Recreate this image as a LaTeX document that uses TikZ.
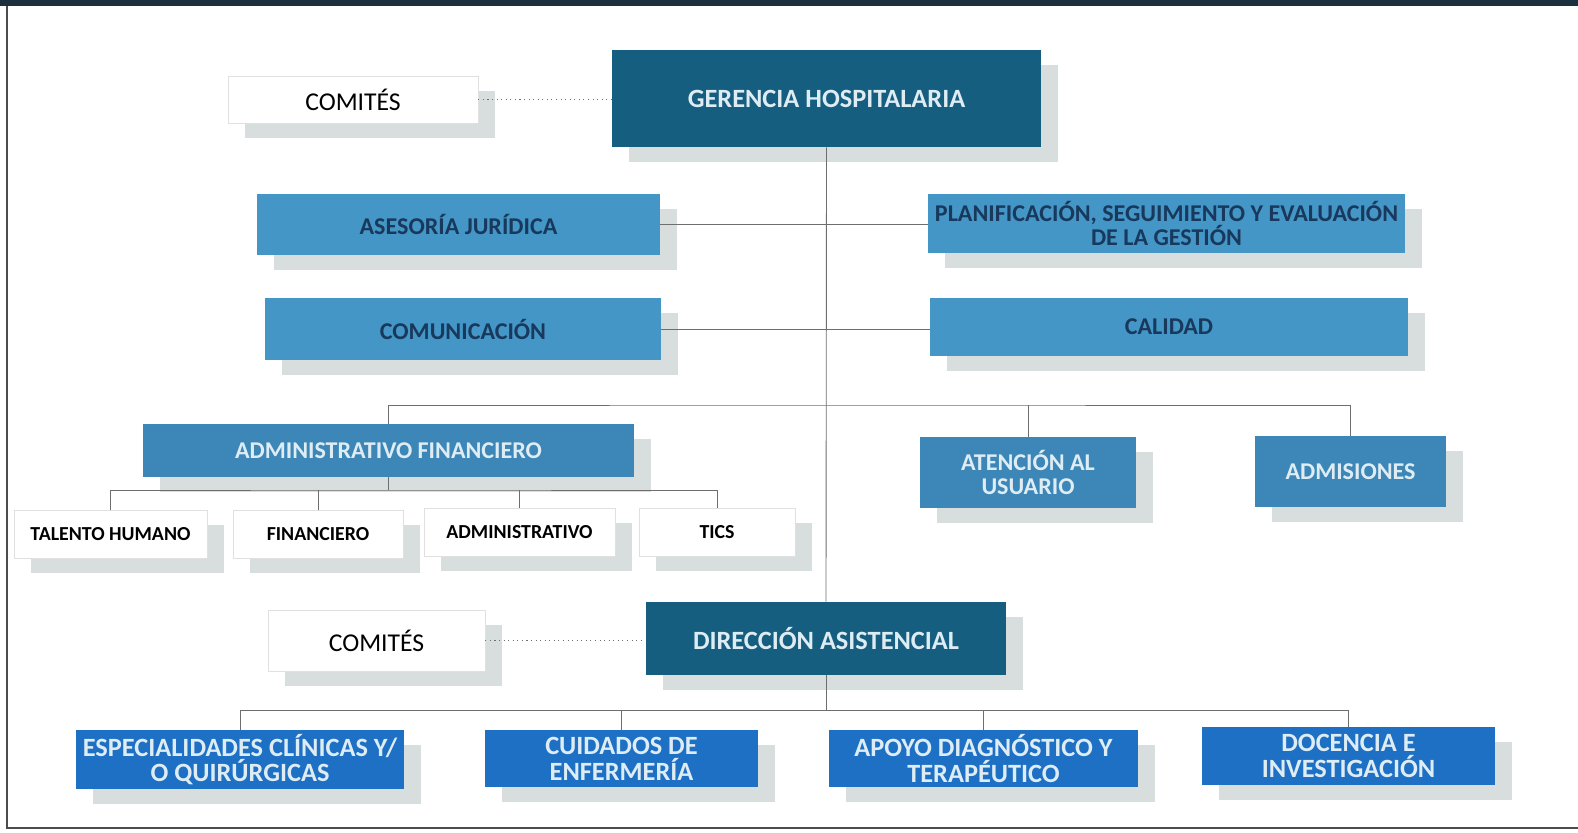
\documentclass[tikz,border=0pt]{standalone}
\usepackage{fontspec}
\setmainfont{Carlito}
\usepackage{tikz}
\usetikzlibrary{shadows}
\definecolor{banda}{RGB}{28,47,62}
\definecolor{oscuro}{RGB}{22,94,128}
\definecolor{medio}{RGB}{68,150,198}
\definecolor{medio2}{RGB}{60,135,184}
\definecolor{vivo}{RGB}{30,112,196}
\definecolor{textoazul}{RGB}{24,56,92}
\definecolor{textoclaro}{RGB}{222,236,244}
\definecolor{sombra}{RGB}{216,221,221}
\definecolor{linea}{RGB}{110,110,110}

\begin{document}
\begin{tikzpicture}[x=0.02cm, y=-0.02cm,
  caja/.style={rectangle, inner sep=1pt, align=center, font=\bfseries,
    drop shadow={shadow xshift=0.34cm, shadow yshift=-0.3cm, fill=sombra, opacity=1}},
  jefe/.style={caja, fill=oscuro, text=textoclaro, font=\bfseries\fontsize{15}{17}\selectfont},
  staff/.style={caja, fill=medio, text=textoazul, font=\bfseries\fontsize{13.7}{14}\selectfont},
  area/.style={caja, fill=medio2, text=textoclaro, font=\bfseries\fontsize{13.7}{13.6}\selectfont},
  unidad/.style={caja, fill=vivo, text=textoclaro, font=\bfseries\fontsize{15}{14.7}\selectfont},
  blanca/.style={caja, fill=white, draw=black!12, text=black, font=\bfseries\fontsize{11.3}{13}\selectfont},
  comite/.style={caja, fill=white, draw=black!12, text=black, font=\fontsize{14.6}{16}\selectfont},
  enlace/.style={draw=linea, line width=0.5pt},
  punteado/.style={draw=linea, line width=0.6pt, dotted}]
\useasboundingbox (0,0) rectangle (1578,832);
% marco
\fill [banda] (0,0) rectangle (1578,6);
\draw [black!70, line width=1pt] (7,6) -- (7,828) -- (1578,828);

% nivel directivo
\node [jefe, minimum width=8.58cm, minimum height=1.94cm] (gerencia) at (826.5,98.5) {GERENCIA HOSPITALARIA};
\node [comite, minimum width=5cm, minimum height=0.94cm] (comites1) at (353,99.5) {COMITÉS};
\node [staff, minimum width=8.06cm, minimum height=1.22cm] (asesoria) at (458.5,224.5) {ASESORÍA JURÍDICA};
\node [staff, minimum width=9.54cm, minimum height=1.18cm] (planificacion) at (1166.5,223.5) {PLANIFICACIÓN, SEGUIMIENTO Y EVALUACIÓN\\DE LA GESTIÓN};
\node [staff, minimum width=7.92cm, minimum height=1.24cm] (comunicacion) at (463,329) {COMUNICACIÓN};
\node [staff, minimum width=9.56cm, minimum height=1.16cm] (calidad) at (1169,327) {CALIDAD};

% nivel administrativo
\node [area, minimum width=9.82cm, minimum height=1.06cm] (admfin) at (388.5,450.5) {ADMINISTRATIVO FINANCIERO};
\node [area, minimum width=4.32cm, minimum height=1.42cm] (atencion) at (1028,472.5) {ATENCIÓN AL\\USUARIO};
\node [area, minimum width=3.82cm, minimum height=1.42cm] (admisiones) at (1350.5,471.5) {ADMISIONES};
\node [blanca, minimum width=3.86cm, minimum height=0.96cm] (talento) at (110.5,534) {TALENTO HUMANO};
\node [blanca, minimum width=3.4cm, minimum height=0.96cm] (financiero) at (318,534) {FINANCIERO};
\node [blanca, minimum width=3.82cm, minimum height=0.96cm] (administrativo) at (519.5,532) {ADMINISTRATIVO};
\node [blanca, minimum width=3.12cm, minimum height=0.96cm] (tics) at (717,532) {TICS};

% nivel asistencial
\node [jefe, minimum width=7.22cm, minimum height=1.46cm] (direccion) at (826,638.5) {DIRECCIÓN ASISTENCIAL};
\node [comite, minimum width=4.34cm, minimum height=1.22cm] (comites2) at (376.5,640.5) {COMITÉS};
\node [unidad, minimum width=6.56cm, minimum height=1.18cm] (especialidades) at (240,759.5) {ESPECIALIDADES CLÍNICAS Y/\\O QUIRÚRGICAS};
\node [unidad, minimum width=5.46cm, minimum height=1.14cm] (cuidados) at (621.5,758.5) {CUIDADOS DE\\ENFERMERÍA};
\node [unidad, minimum width=6.18cm, minimum height=1.14cm] (apoyo) at (983.5,758.5) {APOYO DIAGNÓSTICO Y\\TERAPÉUTICO};
\node [unidad, minimum width=5.86cm, minimum height=1.16cm] (docencia) at (1348.5,756) {DOCENCIA E\\INVESTIGACIÓN};

% conectores
\coordinate (barra) at (826,405);
\coordinate (barrafin) at (388.5,490);
\coordinate (barraasis) at (826,710);
\draw [enlace] (gerencia.south) -- (direccion.north);
\draw [enlace] (asesoria.east) -- (asesoria.east -| planificacion.west);
\draw [enlace] (comunicacion.east) -- (comunicacion.east -| calidad.west);
\draw [enlace] (admfin.north) |- (barra) -| (admisiones.north);
\draw [enlace] (atencion.north) -- (atencion.north |- barra);
\draw [enlace] (admfin.south) -- (barrafin);
\draw [enlace] (talento.north) |- (barrafin) -| (tics.north);
\draw [enlace] (financiero.north) -- (financiero.north |- barrafin);
\draw [enlace] (administrativo.north) -- (administrativo.north |- barrafin);
\draw [enlace] (direccion.south) -- (barraasis);
\draw [enlace] (especialidades.north) |- (barraasis) -| (docencia.north);
\draw [enlace] (cuidados.north) -- (cuidados.north |- barraasis);
\draw [enlace] (apoyo.north) -- (apoyo.north |- barraasis);
\draw [punteado] (comites1.east) -- (comites1.east -| gerencia.west);
\draw [punteado] (comites2.east) -- (comites2.east -| direccion.west);
\end{tikzpicture}
\end{document}
